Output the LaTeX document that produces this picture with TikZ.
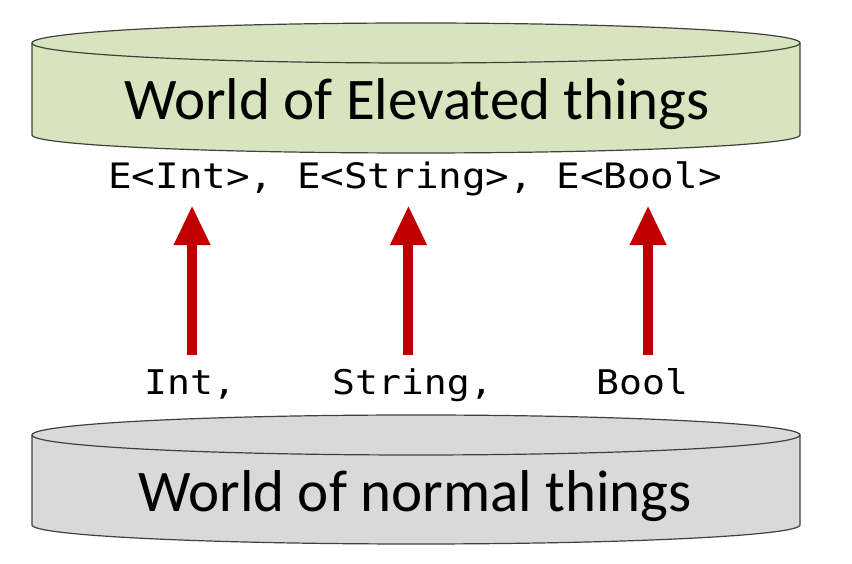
\documentclass[tikz,border=0pt]{standalone}
\usepackage{fontspec}
\setmainfont{Carlito}
\setmonofont{DejaVu Sans Mono}
\usetikzlibrary{arrows.meta}
\definecolor{elevgreen}{HTML}{D7E4BD}
\definecolor{normgray}{HTML}{D9D9D9}
\definecolor{rimgray}{HTML}{404040}
\definecolor{liftred}{HTML}{C00000}
\begin{document}
\begin{tikzpicture}[x=1pt, y=1pt,
    rim/.style={draw=rimgray, line width=1.2pt},
    world/.style={font=\fontsize{59}{70}\selectfont, anchor=base, inner sep=0pt},
    kind/.style={font=\ttfamily\fontsize{35}{42}\selectfont, anchor=base west, inner sep=0pt,
      xscale=1.12, text height=25pt, text depth=0pt},
    label/.style={font=\ttfamily\fontsize{34}{41}\selectfont, anchor=base west, inner sep=0pt,
      xscale=1.12, text height=25pt, text depth=0pt},
    lift/.style={liftred, line width=10pt, -{Triangle[width=34pt,length=40pt]}}]
    \useasboundingbox (0,0) rectangle (852,564);
    \fill[elevgreen] (32,521) -- (32,429) arc (180:360:384pt and 18pt) -- (800,521) arc (0:180:384pt and 20pt) -- cycle;
    \draw[rim] (32,521) -- (32,429) arc (180:360:384pt and 18pt) -- (800,521);
    \draw[rim] (416,521) ellipse (384pt and 20pt);
    \fill[normgray] (32,129) -- (32,39) arc (180:360:384pt and 19pt) -- (800,129) arc (0:180:384pt and 20pt) -- cycle;
    \draw[rim] (32,129) -- (32,39) arc (180:360:384pt and 19pt) -- (800,129);
    \draw[rim] (416,129) ellipse (384pt and 20pt);
    \node[world] (elev) at (417,444) {World of Elevated things};
    \node[world] (norm) at (415,52) {World of normal things};
    \node[kind] (etypes) at (108,375) {E<Int>, E<String>, E<Bool>};
    \node[label] (lint) at (144,169) {Int,};
    \node[label] (lstr) at (332,169) {String,};
    \node[label] (lbool) at (596,169) {Bool};
    \draw[lift] ([xshift=2pt,yshift=15pt]lint.north) -- ([xshift=2pt,yshift=-16pt]lint.north |- etypes.south);
    \draw[lift] ([xshift=-4pt,yshift=15pt]lstr.north) -- ([xshift=-4pt,yshift=-16pt]lstr.north |- etypes.south);
    \draw[lift] ([xshift=6pt,yshift=15pt]lbool.north) -- ([xshift=6pt,yshift=-16pt]lbool.north |- etypes.south);
\end{tikzpicture}
\end{document}
